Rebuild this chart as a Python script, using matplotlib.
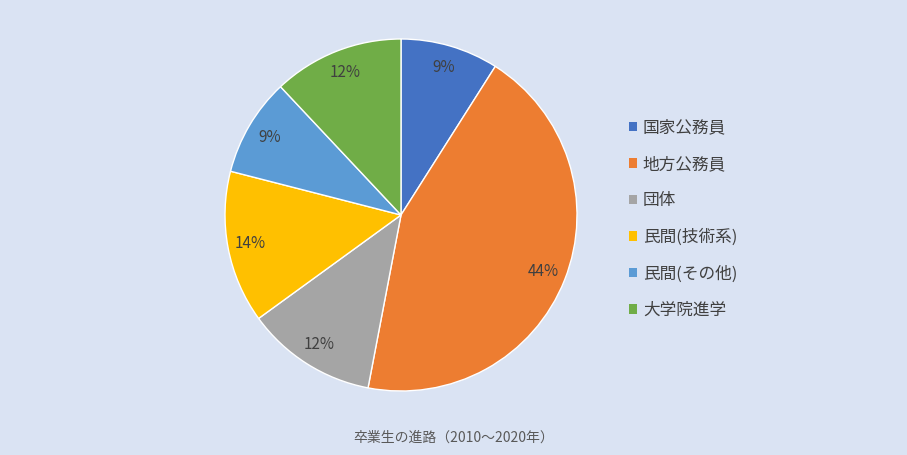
import matplotlib.pyplot as plt
from matplotlib.patches import Patch

plt.rcParams['font.family'] = ['Noto Sans CJK JP', 'DejaVu Sans']

# Data
categories = ['国家公務員', '地方公務員', '団体', '民間(技術系)', '民間(その他)', '大学院進学']
shares = [9, 44, 12, 14, 9, 12]
colors = ['#4472C4', '#ED7D31', '#A5A5A5', '#FFC000', '#5B9BD5', '#70AD47']
title = '卒業生の進路（2010～2020年）'

bg = '#DAE3F3'
W, H = 907, 455

fig = plt.figure(figsize=(W / 100, H / 100), dpi=100, facecolor=bg)

# pie axes: centre (401, 215) px, radius 176 px
cx, cy, r = 401, 215, 176
ax = fig.add_axes([(cx - r) / W, (H - cy - r) / H, 2 * r / W, 2 * r / H])
ax.set_facecolor(bg)

wedges, texts, autotexts = ax.pie(
    shares, colors=colors, startangle=90, counterclock=False,
    autopct='%d%%', pctdistance=0.87, radius=1,
    wedgeprops=dict(edgecolor='white', linewidth=1.0),
    textprops=dict(color='#404040', fontsize=11),
)
ax.set_xlim(-1, 1)
ax.set_ylim(-1, 1)
ax.set_aspect('equal')
ax.axis('off')

handles = [Patch(facecolor=c, edgecolor='none') for c in colors]
fig.legend(handles, categories, loc='upper left',
           bbox_to_anchor=(622 / W, 1 - 113 / H),
           frameon=False, fontsize=12, labelcolor='#404040',
           handlelength=0.5, handleheight=0.5, handletextpad=0.35,
           labelspacing=1.16, borderaxespad=0)

fig.text(454 / W, 1 - 438 / H, title, ha='center', va='center',
         fontsize=10, color='#595959')

fig.savefig('out.png', dpi=100, facecolor=bg)
